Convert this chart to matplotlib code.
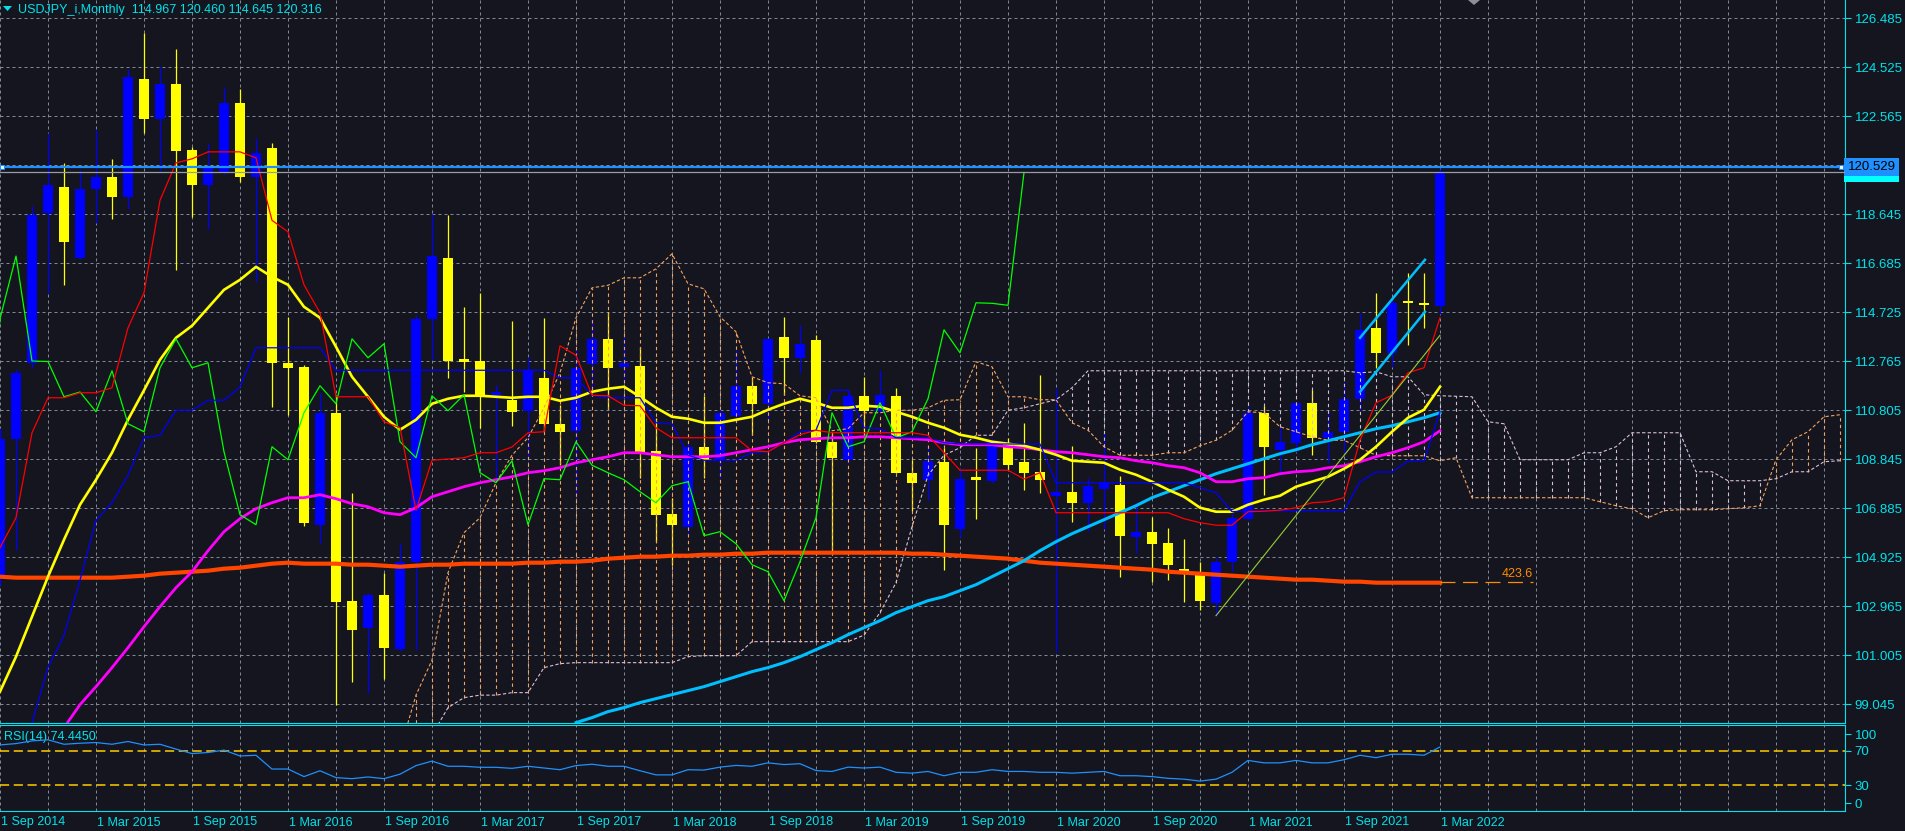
import numpy as np
import matplotlib.pyplot as plt
from matplotlib.transforms import blended_transform_factory
from matplotlib.patches import Polygon

plt.rcParams['font.family'] = ['Liberation Sans', 'DejaVu Sans']

BG = '#14151e'
GRID = '#7f8796'
AXC = '#00e3ec'
BULL = '#0000ff'
BEAR = '#ffff00'

# monthly bars, index 0 = Sep 2014 ... 90 = Mar 2022
opens = [104.1, 109.66, 112.7, 118.7, 119.74, 116.9, 119.66, 120.13, 119.34, 124.06,
         122.46, 123.86, 121.22, 119.82, 120.34, 123.1, 120.14, 121.3, 112.7, 112.54,
         106.22, 110.7, 103.17, 102.1, 103.4, 101.24, 104.74, 114.46, 116.9, 112.8,
         112.77, 111.4, 111.22, 110.78, 112.1, 110.26, 109.98, 112.66, 113.66, 112.54,
         112.58, 109.18, 106.66, 106.14, 109.34, 108.82, 110.58, 111.78, 111.06, 113.74,
         112.9, 113.62, 109.54, 108.8, 111.38, 110.78, 111.38, 108.3, 108.0, 108.74,
         106.06, 108.1, 107.98, 109.5, 108.74, 108.34, 107.38, 107.54, 107.1, 107.66,
         107.82, 105.74, 105.94, 105.5, 104.46, 104.22, 103.1, 104.74, 106.46, 110.7,
         109.22, 109.5, 111.1, 109.7, 109.94, 111.26, 114.1, 113.1, 115.12, 115.08,
         114.967]
highs = [110.09, 112.46, 118.98, 121.9, 120.7, 120.4, 122.0, 120.86, 124.46, 125.9,
         124.58, 125.26, 121.34, 121.5, 123.74, 123.66, 121.7, 121.5, 114.54, 112.6,
         111.5, 111.4, 107.5, 103.5, 104.3, 105.5, 114.6, 118.66, 118.6, 114.94,
         115.5, 111.8, 114.38, 112.94, 114.5, 111.0, 113.2, 114.45, 114.74, 113.75,
         113.34, 110.5, 107.3, 109.5, 111.38, 110.9, 113.2, 112.14, 113.7, 114.54,
         114.22, 113.82, 109.9, 111.5, 112.14, 112.4, 111.7, 108.8, 109.3, 109.3,
         108.5, 109.3, 109.7, 109.7, 110.3, 112.22, 111.7, 109.38, 108.1, 109.9,
         108.18, 107.1, 106.54, 106.1, 105.66, 104.74, 104.94, 106.7, 110.97, 110.96,
         110.18, 111.15, 111.62, 110.7, 111.94, 114.7, 115.5, 115.2, 116.3, 116.3,
         120.46]
lows = [103.8, 105.2, 112.5, 115.5, 115.8, 116.85, 118.3, 118.46, 118.86, 121.9,
        120.38, 116.42, 118.54, 118.06, 120.26, 119.94, 115.94, 110.94, 110.62, 106.15,
        105.5, 99.0, 99.93, 99.5, 100.05, 101.17, 101.2, 112.8, 112.1, 111.53,
        110.1, 108.1, 110.18, 108.8, 109.95, 108.6, 107.34, 111.65, 110.85, 111.9,
        108.1, 105.54, 104.6, 105.8, 108.1, 108.1, 110.3, 109.8, 110.4, 111.4,
        112.3, 109.5, 105.1, 108.7, 109.7, 110.7, 108.28, 106.76, 107.2, 104.42,
        105.74, 106.46, 107.9, 108.4, 107.6, 107.5, 101.14, 106.34, 105.98, 106.06,
        104.14, 105.1, 103.94, 104.0, 103.14, 102.82, 102.58, 104.38, 106.4, 107.42,
        108.3, 109.14, 109.02, 108.7, 109.1, 110.8, 112.5, 112.54, 113.4, 114.1,
        114.645]
closes = [109.66, 112.3, 118.62, 119.82, 117.54, 119.65, 120.13, 119.34, 124.14, 122.46,
          123.86, 121.18, 119.82, 120.54, 123.1, 120.14, 121.1, 112.7, 112.5, 106.3,
          110.7, 103.13, 102.0, 103.4, 101.3, 104.74, 114.46, 116.97, 112.77, 112.75,
          111.34, 111.53, 110.74, 112.38, 110.26, 109.94, 112.5, 113.66, 112.5, 112.7,
          109.14, 106.62, 106.22, 109.34, 108.82, 110.7, 111.78, 111.06, 113.66, 112.9,
          113.46, 109.54, 108.9, 111.38, 110.78, 111.42, 108.3, 107.9, 108.78, 106.22,
          108.06, 108.02, 109.54, 108.6, 108.3, 108.02, 107.54, 107.1, 107.78, 107.94,
          105.78, 105.94, 105.46, 104.62, 104.34, 103.18, 104.74, 106.5, 110.7, 109.34,
          109.54, 111.1, 109.7, 109.94, 111.26, 114.02, 113.1, 115.1, 115.08, 115.0,
          120.316]

tenkan = [105.3, 106.5, 109.9, 111.3, 111.3, 111.5, 111.5, 111.7, 114.1, 115.5,
          119.2, 120.7, 120.86, 121.14, 121.14, 121.14, 120.9, 118.4, 117.94, 115.82,
          114.7, 111.34, 111.34, 111.34, 110.34, 110.1, 106.8, 108.8, 108.85, 108.9,
          109.1, 109.1, 109.33, 109.9, 109.94, 113.38, 113.0, 111.4, 111.38, 111.0,
          110.98, 110.1, 109.7, 109.7, 109.7, 109.7, 109.7, 109.18, 109.14, 109.5,
          109.82, 110.0, 109.9, 109.9, 109.9, 109.9, 109.9, 109.9, 109.8, 109.1,
          108.4, 108.4, 108.4, 108.4, 108.05, 108.3, 106.7, 106.7, 106.7, 106.7,
          106.7, 106.7, 106.7, 106.7, 106.46, 106.3, 106.2, 106.2, 106.74, 106.76,
          106.8, 106.9, 107.1, 107.14, 107.3, 109.6, 111.1, 111.4, 112.3, 112.5,
          114.5]

kijun_start = 2
kijun = [98.3, 100.5, 101.8, 104.0, 106.4, 107.1, 108.2, 109.7,
         109.8, 110.8, 110.8, 111.2, 111.2, 111.73, 113.3, 113.3, 113.3, 113.3,
         113.3, 112.4, 112.4, 112.4, 112.4, 112.4, 112.4, 112.4, 112.4, 112.4,
         112.4, 112.4, 112.4, 112.4, 112.4, 112.1, 112.1, 111.4, 111.3, 111.3,
         111.3, 110.3, 110.25, 109.0, 108.8, 108.8, 108.8, 109.1, 109.14, 109.5,
         109.94, 110.0, 111.6, 111.6, 110.1, 110.06, 109.7, 109.7, 109.7, 109.5,
         109.45, 109.45, 109.45, 109.45, 109.45, 109.45, 107.9, 107.9, 107.9, 107.9,
         107.9, 107.9, 107.9, 107.9, 107.9, 107.7, 107.5, 106.74, 106.78, 106.78,
         106.78, 106.78, 106.78, 106.78, 106.78, 107.94, 108.33, 108.33, 108.77, 108.77,
         110.74]

# Ichimoku cloud, index 0 = bar 25 (projected 26 bars ahead)
span_start = 25
span_a = [97.2, 99.4, 100.8, 104.3, 105.9,
          106.5, 107.9, 109.0, 109.7, 110.9, 112.3, 114.5, 115.7, 115.8, 116.1,
          116.1, 116.46, 117.06, 115.86, 115.66, 114.54, 113.94, 112.14, 111.9, 111.86,
          111.38, 111.3, 109.98, 110.06, 110.7, 110.7, 110.8, 110.8, 110.9, 111.2,
          111.22, 112.74, 112.54, 111.34, 111.34, 111.22, 111.22, 110.3, 110.0, 109.34,
          109.0, 109.0, 109.0, 109.1, 109.1, 109.38, 109.6, 110.0, 110.74, 110.7,
          110.14, 109.94, 109.74, 109.6, 109.6, 109.3, 109.0, 108.98, 108.98, 108.98,
          108.78, 108.9, 107.3, 107.3, 107.3, 107.3, 107.3, 107.3, 107.3, 107.3,
          107.14, 106.98, 106.86, 106.5, 106.78, 106.82, 106.82, 106.82, 106.86, 106.9,
          106.98, 108.82, 109.62, 109.94, 110.54, 110.62]
span_b = [97.0, 97.5, 97.8, 98.9, 99.3,
          99.4, 99.4, 99.5, 99.5, 100.5, 100.66, 100.7, 100.7, 100.7, 100.7,
          100.7, 100.7, 100.7, 100.94, 100.98, 100.98, 100.98, 101.54, 101.54, 101.54,
          101.54, 101.54, 101.54, 101.54, 101.8, 102.7, 103.9, 106.14, 108.2, 109.0,
          109.3, 109.8, 109.8, 110.8, 110.9, 111.06, 111.22, 111.7, 112.38, 112.38,
          112.38, 112.38, 112.38, 112.38, 112.38, 112.38, 112.38, 112.38, 112.38, 112.38,
          112.38, 112.38, 112.38, 112.38, 112.38, 112.3, 112.34, 112.14, 112.14, 111.42,
          111.38, 111.36, 111.34, 110.34, 110.26, 108.82, 108.82, 108.82, 108.82, 109.1,
          109.1, 109.34, 109.9, 109.9, 109.9, 109.9, 108.34, 108.34, 107.98, 107.98,
          107.98, 108.06, 108.34, 108.34, 108.74, 108.78]

ma_yellow = [99.54, 100.94, 102.54, 104.14, 105.62, 107.02, 108.02, 109.1, 110.42, 111.6,
             112.82, 113.7, 114.18, 114.9, 115.62, 116.02, 116.54, 116.14, 115.82, 114.94,
             114.5, 113.34, 112.14, 111.34, 110.54, 110.02, 110.42, 111.06, 111.26, 111.38,
             111.38, 111.34, 111.3, 111.34, 111.34, 111.18, 111.3, 111.54, 111.66, 111.74,
             111.34, 110.9, 110.54, 110.46, 110.3, 110.3, 110.42, 110.54, 110.82, 111.06,
             111.26, 111.1, 110.9, 110.9, 110.98, 110.94, 110.74, 110.54, 110.3, 110.1,
             109.82, 109.7, 109.54, 109.46, 109.38, 109.22, 109.02, 108.78, 108.74, 108.7,
             108.42, 108.22, 107.94, 107.62, 107.34, 106.9, 106.74, 106.74, 107.02, 107.22,
             107.38, 107.74, 107.94, 108.14, 108.46, 108.82, 109.34, 109.94, 110.5, 110.82,
             111.74]

magenta_start = 4
ma_magenta = [98.1, 99.02, 99.74, 100.5, 101.3, 102.14,
              102.94, 103.7, 104.34, 105.18, 105.94, 106.46, 106.86, 107.1, 107.3, 107.3,
              107.42, 107.26, 107.06, 106.94, 106.7, 106.62, 106.9, 107.34, 107.54, 107.74,
              107.9, 108.02, 108.14, 108.3, 108.38, 108.5, 108.7, 108.82, 108.94, 109.1,
              109.1, 109.02, 108.94, 108.94, 108.94, 108.98, 109.1, 109.22, 109.34, 109.5,
              109.62, 109.66, 109.7, 109.7, 109.74, 109.74, 109.7, 109.66, 109.62, 109.5,
              109.42, 109.42, 109.42, 109.34, 109.3, 109.22, 109.14, 109.1, 109.02, 108.94,
              108.9, 108.78, 108.7, 108.58, 108.5, 108.3, 107.94, 107.94, 108.06, 108.1,
              108.26, 108.34, 108.38, 108.5, 108.58, 108.74, 108.94, 109.1, 109.3, 109.54,
              109.98]

cyan_start = 36
ma_cyan = [98.3, 98.5, 98.74, 98.9,
           99.1, 99.26, 99.42, 99.58, 99.74, 99.94, 100.14, 100.34, 100.5, 100.7,
           100.94, 101.22, 101.5, 101.82, 102.1, 102.38, 102.7, 102.94, 103.18, 103.34,
           103.58, 103.82, 104.14, 104.46, 104.78, 105.18, 105.54, 105.86, 106.14, 106.42,
           106.7, 106.98, 107.3, 107.54, 107.78, 108.02, 108.26, 108.46, 108.66, 108.86,
           109.06, 109.22, 109.42, 109.58, 109.74, 109.9, 110.06, 110.18, 110.34, 110.5,
           110.7]

ma_orange = [104.14, 104.1, 104.1, 104.1, 104.1, 104.1, 104.1, 104.1, 104.14, 104.18,
             104.26, 104.3, 104.34, 104.38, 104.46, 104.5, 104.58, 104.66, 104.7, 104.66,
             104.66, 104.66, 104.62, 104.62, 104.58, 104.54, 104.58, 104.62, 104.62, 104.66,
             104.66, 104.66, 104.66, 104.7, 104.7, 104.74, 104.74, 104.78, 104.86, 104.9,
             104.94, 104.94, 104.98, 104.98, 105.02, 105.02, 105.06, 105.06, 105.1, 105.1,
             105.1, 105.1, 105.1, 105.1, 105.1, 105.1, 105.1, 105.06, 105.06, 105.02,
             104.98, 104.94, 104.9, 104.86, 104.78, 104.7, 104.66, 104.62, 104.58, 104.54,
             104.5, 104.46, 104.42, 104.34, 104.3, 104.26, 104.22, 104.18, 104.14, 104.1,
             104.06, 104.02, 104.02, 103.98, 103.94, 103.94, 103.9, 103.9, 103.9, 103.9,
             103.9]

rsi = [76.8, 78.4, 81.5, 82.8, 77.6, 78.8, 79.6, 77.6, 80.8, 76.8,
       77.6, 72.0, 66.8, 68.0, 70.8, 64.0, 64.8, 48.8, 48.8, 40.0,
       46.8, 38.8, 37.6, 39.6, 37.6, 42.8, 52.8, 58.0, 52.0, 52.0,
       50.8, 50.8, 49.6, 52.0, 50.0, 48.0, 52.8, 54.4, 52.0, 52.0,
       46.8, 42.0, 42.0, 48.0, 47.6, 51.0, 53.0, 52.0, 56.0, 54.0,
       55.0, 47.0, 46.0, 51.0, 50.0, 51.0, 45.0, 44.0, 46.0, 41.0,
       45.0, 45.0, 48.0, 46.0, 46.0, 45.0, 45.0, 44.0, 45.0, 46.0,
       41.0, 41.0, 40.0, 38.0, 37.0, 34.8, 37.0, 45.0, 58.8, 56.0,
       56.0, 58.8, 56.0, 56.0, 59.6, 64.8, 62.0, 66.0, 66.0, 64.8,
       74.445]

price_levels = [126.485, 124.525, 122.565, 120.605, 118.645, 116.685, 114.725, 112.765,
                110.805, 108.845, 106.885, 104.925, 102.965, 101.005, 99.045]
date_pos = [0, 6, 12, 18, 24, 30, 36, 42, 48, 54, 60, 66, 72, 78, 84, 90]
date_labels = ['1 Sep 2014', '1 Mar 2015', '1 Sep 2015', '1 Mar 2016', '1 Sep 2016',
               '1 Mar 2017', '1 Sep 2017', '1 Mar 2018', '1 Sep 2018', '1 Mar 2019',
               '1 Sep 2019', '1 Mar 2020', '1 Sep 2020', '1 Mar 2021', '1 Sep 2021',
               '1 Mar 2022']

# drawn objects (bar index, price)
trend_green = ([76, 90], [102.58, 113.8])
channel_top = ([85, 89.06], [113.7, 116.82])
channel_bot = ([85, 89.06], [111.54, 114.74])
fib_level, fib_text, fib_span = 103.93, '423.6', (90, 95.8)
hline_price = 120.529
bid_price = 120.316

W, H = 1906, 831
fig = plt.figure(figsize=(W / 100, H / 100), dpi=100, facecolor=BG)
ax = fig.add_axes([0, 108 / H, 1845 / W, 723 / H], facecolor=BG)
rax = fig.add_axes([0, 20 / H, 1845 / W, 86 / H], facecolor=BG)

XMAX = 1845 / 16
grid_x = np.arange(0, 116, 3)
for a in (ax, rax):
    a.set_xlim(0, XMAX)
    a.set_xticks(grid_x)
    a.tick_params(axis='x', length=0, labelbottom=False)
    for s in ('top', 'left'):
        a.spines[s].set_visible(False)
    for s in ('bottom', 'right'):
        a.spines[s].set_color(AXC)
        a.spines[s].set_linewidth(0.8)
    a.xaxis.grid(True, color=GRID, lw=0.72, linestyle=(0, (3, 3)))
rax.spines['top'].set_visible(True)
rax.spines['top'].set_color(AXC)
rax.spines['top'].set_linewidth(0.8)

ax.set_ylim(98.285, 127.217)
ax.set_yticks(price_levels)
ax.set_yticklabels(['' if abs(p - 120.605) < 1e-6 else f'{p:.3f}' for p in price_levels])
ax.yaxis.tick_right()
ax.tick_params(axis='y', colors=AXC, length=4, width=0.8, labelsize=9.5, pad=3)
ax.yaxis.grid(True, color=GRID, lw=0.72, linestyle=(0, (3, 3)))
ax.set_axisbelow(True)

# candles
o = np.array(opens); h = np.array(highs); l = np.array(lows); c = np.array(closes)
xs = np.arange(len(o))
cols = np.where(c >= o, BULL, BEAR)
ax.vlines(xs, l, h, colors=cols, lw=0.9, zorder=2)
body_lo = np.minimum(o, c)
body_h = np.maximum(np.abs(c - o), 0.1)
ax.bar(xs, body_h, bottom=body_lo, width=0.625, color=cols, lw=0, zorder=2)

# ichimoku cloud
sa = np.array(span_a); sb = np.array(span_b)
sx = np.arange(span_start, span_start + len(sa))
hcols = np.where(sa >= sb, '#f4a460', '#d8bfd8')
ax.vlines(sx, np.minimum(sa, sb), np.maximum(sa, sb), colors=hcols, lw=0.8,
          linestyles=[(0, (3, 3))], zorder=3)
ax.plot(sx, sa, color='#f4a460', lw=0.8, ls=(0, (3, 2)), zorder=3)
ax.plot(sx, sb, color='#d8bfd8', lw=0.8, ls=(0, (3, 2)), zorder=3)

# moving averages
ax.plot(xs, ma_orange, color='#ff4500', lw=3.0, zorder=4)
ax.plot(np.arange(cyan_start, cyan_start + len(ma_cyan)), ma_cyan, color='#00bfff', lw=2.2, zorder=4)
ax.plot(np.arange(magenta_start, magenta_start + len(ma_magenta)), ma_magenta, color='#ff00ff', lw=2.0, zorder=4)
ax.plot(xs, ma_yellow, color='#ffff00', lw=1.9, zorder=4)

# ichimoku lines
ax.plot(xs - 26, c, color='#00ff00', lw=0.9, zorder=4)
ax.plot(np.arange(kijun_start, kijun_start + len(kijun)), kijun, color='#0000ff', lw=0.9, zorder=4)
ax.plot(xs, tenkan, color='#ff0000', lw=0.9, zorder=4)

# objects
ax.plot(*trend_green, color='#9acd32', lw=0.8, zorder=5)
ax.plot(*channel_top, color='#00bfff', lw=1.8, zorder=5)
ax.plot(*channel_bot, color='#00bfff', lw=1.8, zorder=5)
ax.plot(fib_span, [fib_level] * 2, color='#ff8c00', lw=0.9, ls=(0, (12, 6)), zorder=5)
ax.text(fib_span[1], fib_level + 0.3, fib_text, color='#ff8c00', fontsize=9,
        ha='right', va='center', zorder=6)

ax.axhline(bid_price, color='#9a9ca3', lw=0.9, zorder=5)
ax.axhline(hline_price, color='#1e90ff', lw=1.6, zorder=6)
ax.plot([0.12, XMAX - 0.27], [hline_price] * 2, 's', ms=3.2, mfc='white',
        mec='#1e90ff', mew=0.8, zorder=7, clip_on=False)

ytr = blended_transform_factory(ax.transAxes, ax.transData)
ax.text(1.0015, bid_price, f'{bid_price:.3f}', transform=ytr, fontsize=9.5, color='black',
        va='center', ha='left', bbox=dict(boxstyle='square,pad=0.25', fc='#00ffff', ec='none'))
ax.text(1.0015, hline_price, f'{hline_price:.3f}', transform=ytr, fontsize=9.5, color='black',
        va='center', ha='left', bbox=dict(boxstyle='square,pad=0.25', fc='#1e90ff', ec='none'))

# RSI panel
rax.set_ylim(0, 100)
rax.plot(xs, rsi, color='#1e90ff', lw=0.9, zorder=4)
for lvl in (70, 30):
    rax.axhline(lvl, color='#ffcc00', lw=1.1, ls=(0, (6, 3)), zorder=3)
rax.set_yticks([89.5, 70, 30, 9.3])
rax.set_yticklabels(['100', '70', '30', '0'])
rax.yaxis.tick_right()
rax.tick_params(axis='y', colors=AXC, length=4, width=0.8, labelsize=9.5, pad=3)
rax.text(0.002, 0.86, f'RSI(14) {rsi[-1]:.4f}', transform=rax.transAxes, color=AXC,
         fontsize=9, va='center', ha='left')

dtr = blended_transform_factory(rax.transData, fig.transFigure)
for m, lab in zip(date_pos, date_labels):
    rax.text(m + 0.05, 8.5 / H, lab, transform=dtr, color=AXC, fontsize=9,
             ha='left', va='center')

# header
def px(x, y):
    return (x / W, 1 - y / H)

fig.patches.append(Polygon([px(3, 6), px(12, 6), px(7.5, 11)], closed=True,
                           transform=fig.transFigure, fc=AXC, ec='none'))
fig.patches.append(Polygon([px(1468, 0), px(1480, 0), px(1474, 5)], closed=True,
                           transform=fig.transFigure, fc='#8a8f99', ec='none'))
fig.text(18 / W, 1 - 10 / H, 'USDJPY_i,Monthly  114.967 120.460 114.645 120.316',
         color=AXC, fontsize=9, ha='left', va='center')

fig.savefig('out.png', dpi=100, facecolor=BG)
